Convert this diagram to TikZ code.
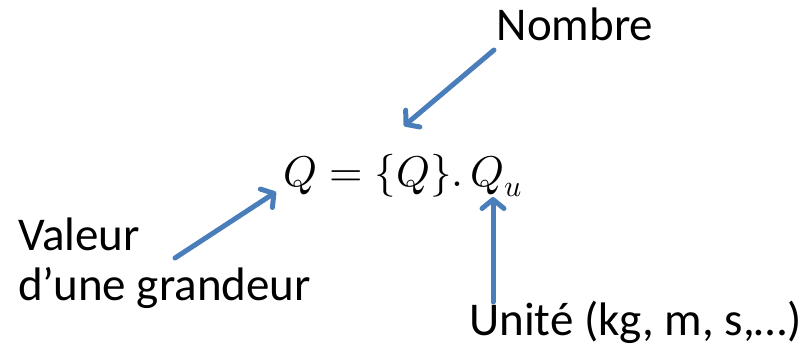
\documentclass[tikz,border=0pt]{standalone}
\usepackage{fontspec}
\usepackage{unicode-math}
\setmainfont{Carlito}
\setmathfont{Latin Modern Math}
\usetikzlibrary{arrows.meta}
\definecolor{arrowblue}{HTML}{4A7EBB}
\tikzset{
  lbl/.style={inner sep=0pt, font=\fontsize{47}{57}\selectfont},
  mathlbl/.style={inner sep=0pt, font=\fontsize{43}{52}\selectfont},
  pointer/.style={draw=arrowblue, line width=5pt, line cap=round,
    -{Straight Barb[length=9pt,width=22pt,line cap=round,line join=round]}}
}
\begin{document}
\begin{tikzpicture}[x=1pt,y=-1pt]
\useasboundingbox (0,0) rectangle (807,354);
\node[lbl, anchor=base] (nombre) at (575,40) {Nombre};
\node[mathlbl, anchor=base west] (eq) at (283,186) {$Q = \{Q\}.\,Q_u$};
\node[lbl, anchor=base west] (valeur) at (18,250) {Valeur};
\node[lbl, anchor=base west] (grandeur) at (18,300) {d’une grandeur};
\node[lbl, anchor=base west] (unite) at (469,335) {Unité (kg, m, s,…)};
\coordinate (n1) at (494,50);
\coordinate (n2) at (404,126);
\coordinate (v1) at (175,258);
\coordinate (v2) at (276,192);
\coordinate (u1) at (493,302);
\coordinate (u2) at (493,197);
\draw[pointer] (n1) -- (n2);
\draw[pointer] (v1) -- (v2);
\draw[pointer] (u1) -- (u2);
\end{tikzpicture}
\end{document}
